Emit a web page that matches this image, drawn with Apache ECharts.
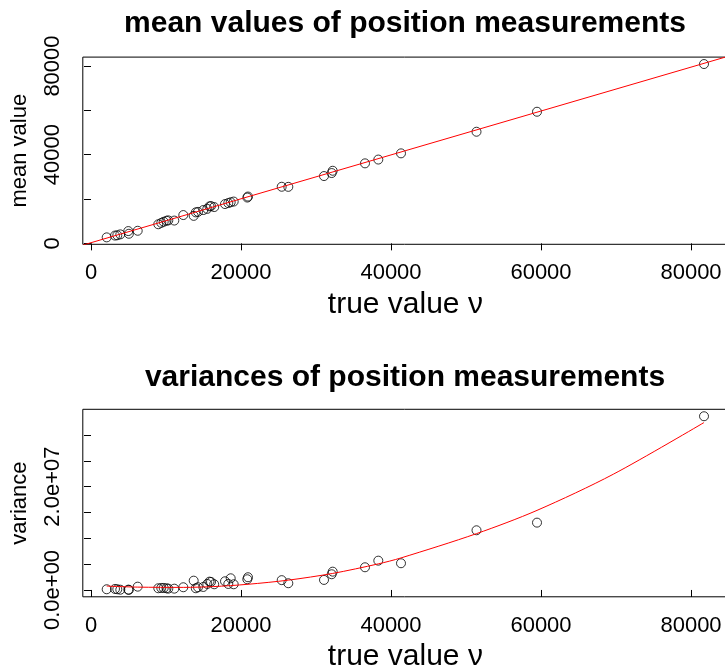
<!DOCTYPE html>
<html>
<head>
<meta charset="utf-8">
<script src="https://cdn.jsdelivr.net/npm/echarts@6/dist/echarts.min.js"></script>
<style>
  html, body { margin: 0; padding: 0; background: #ffffff; }
  #chart { width: 725px; height: 670px; }
</style>
</head>
<body>
<div id="chart"></div>
<script>
// true values ν of the measured positions
const trueValue = [2093, 3200, 3507, 3907, 4973, 5050, 6227, 8973, 9373, 9693,
  10067, 10307, 11107, 12307, 13693, 13973, 14267, 14973, 15507, 15800,
  16000, 16427, 17867, 18307, 18627, 19027, 20840, 20933, 25427, 26307,
  31067, 32093, 32227, 36533, 38307, 41333, 51400, 59467, 81733];

// mean of the repeated position measurements
const meanValue = [2707, 3519, 3655, 4061, 5550, 4332, 5685, 8618, 9250, 9746,
  10197, 10378, 10287, 12769, 12408, 13987, 14213, 15025, 15566, 16694,
  16830, 16379, 17732, 18183, 18544, 18860, 20665, 21116, 25538, 25493,
  30366, 31719, 32757, 36096, 37811, 40608, 50354, 59378, 80900];

// variance of the repeated position measurements
const varianceValue = [135000, 194000, 135000, 50000, 60000, 20000, 639000, 329000, 387000, 387000,
  329000, 252000, 252000, 523000, 1800000, 329000, 523000, 581000, 1160000, 1610000,
  1550000, 1100000, 1680000, 1160000, 2260000, 1100000, 2070000, 2460000, 1900000, 1300000,
  1940000, 3040000, 3540000, 4390000, 5670000, 5170000, 11550000, 13030000, 33620000];

// straight-line fit of mean against true value
const meanFitIntercept = 300;
const meanFitSlope = 0.99;

// fitted variance curve
const varFitX = [2093, 6227, 12307, 16300, 20933, 26307, 32227, 38307, 41333, 51400, 59467, 69640, 81733];
const varFitY = [750000, 550000, 500000, 650000, 1100000, 1900000, 3200000, 5050000, 6200000, 10900000, 15400000, 22400000, 32400000];

// axis ticks and labels
const xTicks = [0, 20000, 40000, 60000, 80000];
const meanTicks = [0, 20000, 40000, 60000, 80000];
const meanLabels = [0, 40000, 80000];
const varTicks = [0, 5e6, 1e7, 1.5e7, 2e7, 2.5e7, 3e7];
const varLabels = [0, 2e7];

const FONT = '"Liberation Sans", Arial, Helvetica, sans-serif';

// range padded by 4% on both sides
function paddedRange(vals) {
  const lo = Math.min(...vals), hi = Math.max(...vals), d = (hi - lo) * 0.04;
  return [lo - d, hi + d];
}
// scientific label such as 2.0e+07
function sci(v) {
  const s = v.toExponential(1);
  const [m, e] = s.split('e');
  const sign = e[0] === '-' ? '-' : '+';
  let digits = e.replace(/[+-]/, '');
  if (digits.length < 2) digits = '0' + digits;
  return m + 'e' + sign + digits;
}
const plain = (v) => String(Math.round(v));

const xr = paddedRange(trueValue);
const mr = paddedRange(meanValue);
const vr = paddedRange(varianceValue);

const pts = (ys) => trueValue.map((x, i) => [x, ys[i]]);

function xAxisOf(idx) {
  return {
    gridIndex: idx, type: 'value', min: xr[0], max: xr[1],
    axisLine: { show: false },
    axisTick: { show: true, length: 7, customValues: xTicks, lineStyle: { color: '#000', width: 1 } },
    axisLabel: { customValues: xTicks, margin: 18, fontSize: 22, color: '#000', fontFamily: FONT, formatter: plain },
    splitLine: { show: false },
    name: 'true value ν', nameLocation: 'middle', nameGap: 45,
    nameTextStyle: { fontSize: 30, color: '#000', fontFamily: FONT }
  };
}
function yAxisOf(idx, range, ticks, labels, fmt, name) {
  return {
    gridIndex: idx, type: 'value', min: range[0], max: range[1],
    axisLine: { show: false },
    axisTick: { show: true, length: 7, customValues: ticks, lineStyle: { color: '#000', width: 1 } },
    axisLabel: { customValues: labels, rotate: 90, margin: 19, fontSize: 22, color: '#000', fontFamily: FONT, formatter: fmt },
    splitLine: { show: false },
    name: name, nameLocation: 'middle', nameRotate: 90, nameGap: 52,
    nameTextStyle: { fontSize: 22, color: '#000', fontFamily: FONT }
  };
}

const circle = {
  type: 'scatter', symbol: 'circle', symbolSize: 9, silent: true, z: 2,
  itemStyle: { color: 'rgba(0,0,0,0)', borderColor: '#000', borderWidth: 1 }
};

const option = {
  animation: false,
  backgroundColor: '#ffffff',
  grid: [
    { left: 82.8, top: 57.1, width: 645.1, height: 187.2, show: true, borderColor: '#000', borderWidth: 1, backgroundColor: 'transparent', outerBoundsMode: 'none', containLabel: false },
    { left: 82.8, top: 409.3, width: 645.1, height: 187.5, show: true, borderColor: '#000', borderWidth: 1, backgroundColor: 'transparent', outerBoundsMode: 'none', containLabel: false }
  ],
  xAxis: [xAxisOf(0), xAxisOf(1)],
  yAxis: [
    yAxisOf(0, mr, meanTicks, meanLabels, plain, 'mean value'),
    yAxisOf(1, vr, varTicks, varLabels, sci, 'variance')
  ],
  graphic: [
    { type: 'text', x: 405, y: 24, style: { text: 'mean values of position measurements', font: 'bold 30px ' + FONT, textAlign: 'center', textVerticalAlign: 'middle', fill: '#000' } },
    { type: 'text', x: 405, y: 378, style: { text: 'variances of position measurements', font: 'bold 30px ' + FONT, textAlign: 'center', textVerticalAlign: 'middle', fill: '#000' } }
  ],
  series: [
    Object.assign({}, circle, { xAxisIndex: 0, yAxisIndex: 0, data: pts(meanValue) }),
    {
      type: 'line', xAxisIndex: 0, yAxisIndex: 0, silent: true, z: 3, symbol: 'none', clip: true,
      lineStyle: { color: '#ff0000', width: 1 },
      data: xr.map((x) => [x, meanFitIntercept + meanFitSlope * x])
    },
    Object.assign({}, circle, { xAxisIndex: 1, yAxisIndex: 1, data: pts(varianceValue) }),
    {
      type: 'line', xAxisIndex: 1, yAxisIndex: 1, silent: true, z: 3, symbol: 'none', smooth: 0.3,
      lineStyle: { color: '#ff0000', width: 1 },
      data: varFitX.map((x, i) => [x, varFitY[i]])
    }
  ]
};

const chart = echarts.init(document.getElementById('chart'), null, { renderer: 'canvas' });
chart.setOption(option);
</script>
</body>
</html>
